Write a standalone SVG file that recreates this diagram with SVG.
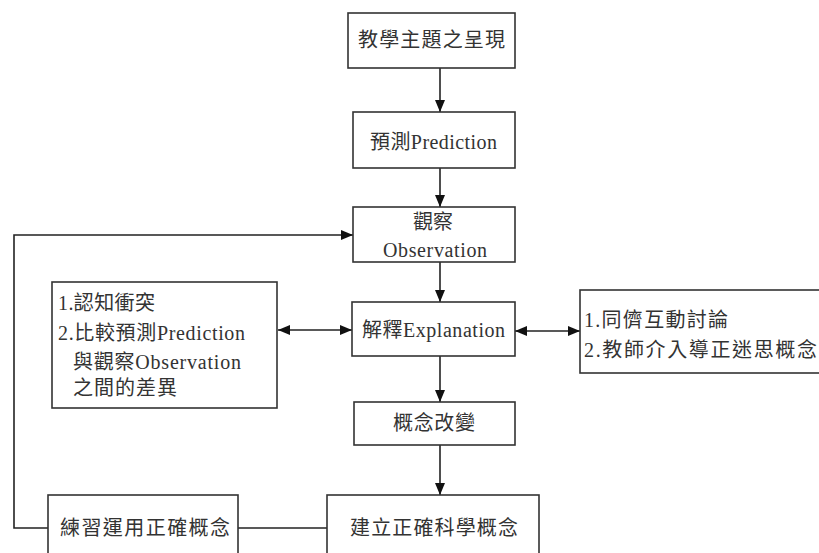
<svg xmlns="http://www.w3.org/2000/svg" width="819" height="553" viewBox="0 0 819 553">
<style>
.box{fill:#fff;stroke:#333;stroke-width:1.6}
.t{font-family:"Liberation Serif","Noto Sans CJK TC","Noto Sans CJK SC",serif;font-size:20px;fill:#333}
.c{stroke:#222;stroke-width:1.6;fill:none}
</style>
<defs>
<marker id="ah" markerUnits="userSpaceOnUse" markerWidth="12" markerHeight="12" viewBox="0 0 12 10" refX="12" refY="5" orient="auto-start-reverse">
<path d="M0,0 L12,5 L0,10 z" fill="#111"/>
</marker>
</defs>
<rect width="819" height="553" fill="#fff"/>
<g id="connectors">
<line class="c" x1="440" y1="68" x2="440" y2="112" marker-end="url(#ah)"/>
<line class="c" x1="440" y1="168" x2="440" y2="207" marker-end="url(#ah)"/>
<path class="c" d="M48,528 H14 V235 H353" marker-end="url(#ah)"/>
<line class="c" x1="440" y1="262" x2="440" y2="302" marker-end="url(#ah)"/>
<line class="c" x1="278" y1="330" x2="352" y2="330" marker-start="url(#ah)" marker-end="url(#ah)"/>
<line class="c" x1="515" y1="331" x2="580" y2="331" marker-start="url(#ah)" marker-end="url(#ah)"/>
<line class="c" x1="440" y1="356" x2="440" y2="402" marker-end="url(#ah)"/>
<line class="c" x1="440" y1="445" x2="440" y2="495" marker-end="url(#ah)"/>
<line class="c" x1="238" y1="528" x2="327" y2="528"/>
</g>
<g id="n1"><rect class="box" x="348" y="13" width="167" height="55"/><text class="t" x="358" y="47" textLength="147" lengthAdjust="spacing">教學主題之呈現</text></g>
<g id="n2"><rect class="box" x="353" y="112" width="162" height="56"/><text class="t" x="370" y="149" textLength="127" lengthAdjust="spacing">預測Prediction</text></g>
<g id="n3"><rect class="box" x="353" y="207" width="162" height="55"/><text class="t" x="413" y="229" textLength="40" lengthAdjust="spacing">觀察</text><text class="t" x="383" y="257" textLength="104" lengthAdjust="spacing">Observation</text></g>
<g id="n4"><rect class="box" x="352" y="302" width="163" height="54"/><text class="t" x="362" y="337" textLength="143" lengthAdjust="spacing">解釋Explanation</text></g>
<g id="n5"><rect class="box" x="354" y="402" width="161" height="43"/><text class="t" x="393" y="430" textLength="82" lengthAdjust="spacing">概念改變</text></g>
<g id="nLeft"><rect class="box" x="52" y="282" width="225" height="126"/>
<text class="t" x="58" y="310" textLength="97" lengthAdjust="spacing">1.認知衝突</text>
<text class="t" x="58" y="340" textLength="187" lengthAdjust="spacing">2.比較預測Prediction</text>
<text class="t" x="73" y="369" textLength="168" lengthAdjust="spacing">與觀察Observation</text>
<text class="t" x="73" y="395" textLength="104" lengthAdjust="spacing">之間的差異</text>
</g>
<g id="nRight"><rect class="box" x="580" y="290" width="245" height="83"/>
<text class="t" x="584" y="327" textLength="144" lengthAdjust="spacing">1.同儕互動討論</text>
<text class="t" x="584" y="357" textLength="233" lengthAdjust="spacing">2.教師介入導正迷思概念</text>
</g>
<g id="n6"><rect class="box" x="48" y="495" width="190" height="70"/><text class="t" x="60" y="535" textLength="170" lengthAdjust="spacing">練習運用正確概念</text></g>
<g id="n7"><rect class="box" x="327" y="495" width="212" height="70"/><text class="t" x="350" y="535" textLength="168" lengthAdjust="spacing">建立正確科學概念</text></g>
</svg>
